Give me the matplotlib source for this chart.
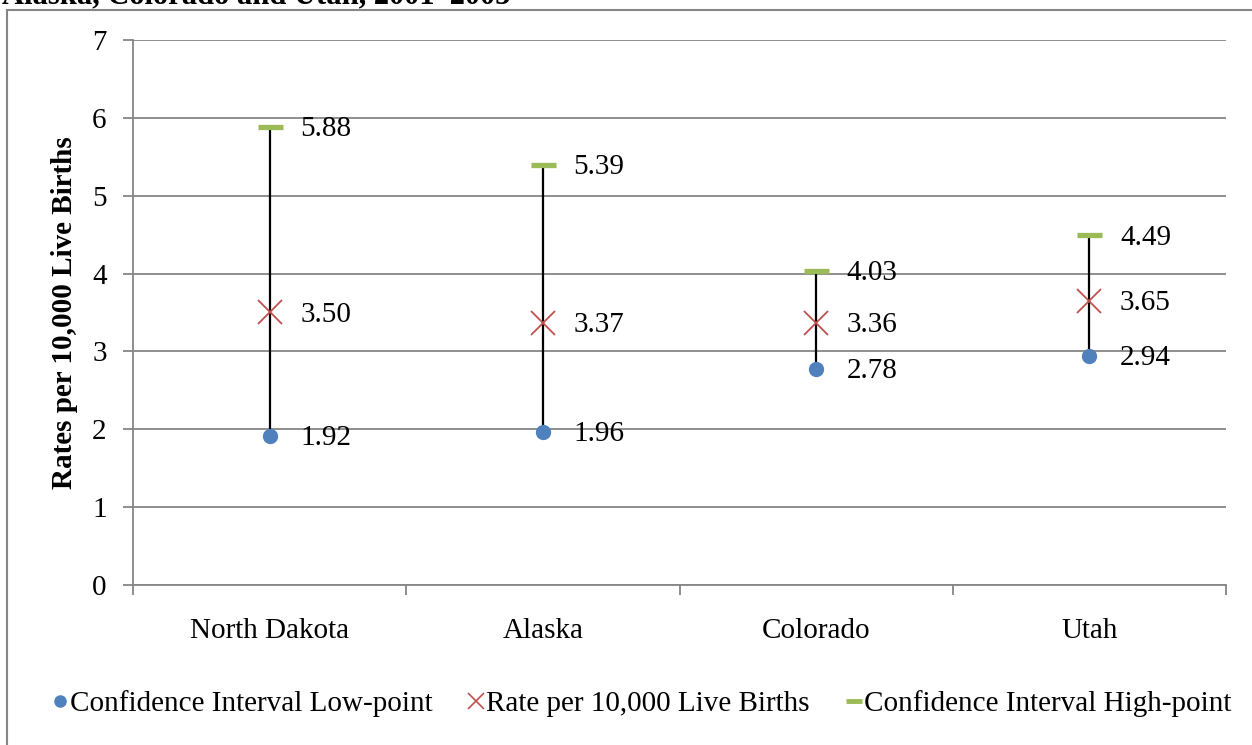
import matplotlib
matplotlib.use("Agg")
import matplotlib.pyplot as plt
from matplotlib.lines import Line2D
from matplotlib.patches import Rectangle

states = ["North Dakota", "Alaska", "Colorado", "Utah"]
ci_low = [1.92, 1.96, 2.78, 2.94]
rate = [3.50, 3.37, 3.36, 3.65]
ci_high = [5.88, 5.39, 4.03, 4.49]
y_ticks = [0, 1, 2, 3, 4, 5, 6, 7]

plt.rcParams['font.family'] = ['Liberation Serif', 'DejaVu Serif']

BLUE = '#4F81BD'
RED = '#C0504D'
GREEN = '#9BBB59'
GRID = '#868686'
FS = 21

fig = plt.figure(figsize=(12.52, 7.45), dpi=100)
ax = fig.add_axes([133/1252, 160/745, (1226-133)/1252, 545/745])

# outer chart border (extends beyond image on right/bottom)
fig.patches.append(Rectangle((7/1252, -0.1), 1.2, 1 - 10/745 + 0.1,
                             transform=fig.transFigure, fill=False,
                             edgecolor=GRID, linewidth=1.5))
fig.text(2/1252, 1 - 3/745, "Alaska, Colorado and Utah, 2001–2005",
         fontsize=22, fontweight='bold', ha='left', va='baseline')

x = list(range(len(states)))
for i in x:
    ax.plot([i, i], [ci_low[i], ci_high[i]], color='black', lw=1.6, zorder=3)

ax.plot(x, ci_low, linestyle='none', marker='o', markersize=10,
        color=BLUE, zorder=4)
ax.plot(x, rate, linestyle='none', marker='x', markersize=17,
        markeredgewidth=1.3, color=RED, zorder=4)
ax.plot(x, ci_high, linestyle='none', marker='_', markersize=18,
        markeredgewidth=3.8, color=GREEN, zorder=4)

for i in x:
    for v in (ci_low[i], rate[i], ci_high[i]):
        ax.annotate(f"{v:.2f}", (i, v), xytext=(22, -1.5),
                    textcoords='offset points', ha='left', va='center',
                    fontsize=FS)

ax.set_xlim(-0.5, len(states) - 0.5)
ax.set_ylim(0, 7)
ax.set_yticks(y_ticks)
ax.set_yticklabels([str(t) for t in y_ticks], fontsize=FS)
ax.yaxis.grid(True, color=GRID, lw=1.3)
ax.set_axisbelow(True)

ax.set_xticks(x)
ax.set_xticklabels(states, fontsize=FS)
ax.set_xticks([k - 0.5 for k in range(len(states) + 1)], minor=True)
ax.tick_params(axis='x', which='major', length=0, pad=24)
ax.tick_params(axis='x', which='minor', length=7, width=1.3, color=GRID,
               direction='out')
ax.tick_params(axis='y', length=7, width=1.3, color=GRID, pad=12)

for s in ['top', 'right']:
    ax.spines[s].set_visible(False)
for s in ['left', 'bottom']:
    ax.spines[s].set_color(GRID)
    ax.spines[s].set_linewidth(1.3)

ax.set_ylabel("Rates per 10,000 Live Births", fontsize=FS,
              fontweight='bold', labelpad=10)

handles = [
    Line2D([], [], linestyle='none', marker='o', markersize=8, color=BLUE),
    Line2D([], [], linestyle='none', marker='x', markersize=12,
           markeredgewidth=1.2, color=RED),
    Line2D([], [], linestyle='none', marker='_', markersize=12,
           markeredgewidth=3.5, color=GREEN),
]
labels = ["Confidence Interval Low-point", "Rate per 10,000 Live Births",
          "Confidence Interval High-point"]
fig.legend(handles, labels, loc='center', bbox_to_anchor=(641/1252, 1 - 704/745),
           ncol=3, frameon=False, fontsize=FS, handlelength=0.6,
           handletextpad=0.05, columnspacing=1.2)

fig.savefig("out.png", dpi=100)
